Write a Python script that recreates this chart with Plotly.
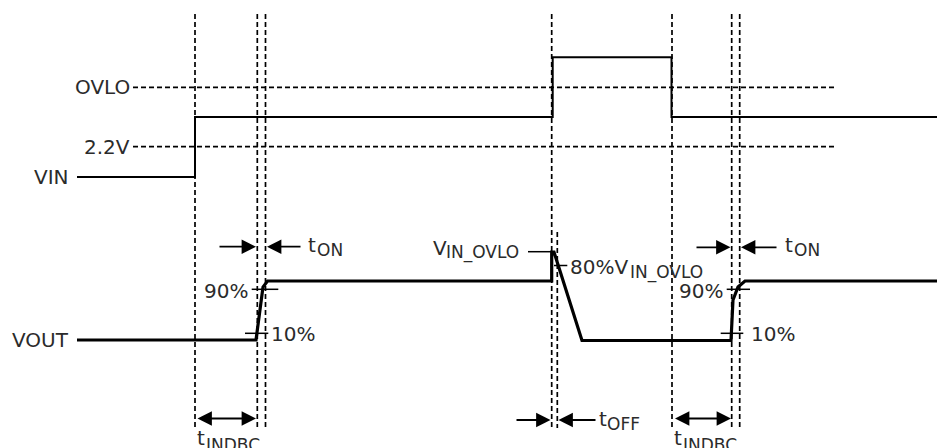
import plotly.graph_objects as go

# ---- data (pixel-like time / level units) ----
vin_t = [77, 195, 195, 552.7, 552.7, 671.5, 671.5, 937]
vin_v = [177, 177, 117, 117, 57.3, 57.3, 117, 117]

vout_t = [77, 256, 263, 267.5, 551.7, 551.7, 554, 582, 731, 733, 738, 745, 937]
vout_v = [340, 340, 287, 281, 281, 252, 252, 340.5, 340.5, 300, 287, 281, 281]

edge_t = [195, 257.3, 265.5, 551.7, 672, 731.7, 739.7]   # full-height dashed markers
edge_top, edge_bottom = 14, 428
toff_t = 557.3          # second tOFF marker (lower half only)
toff_top = 232

level_names = ["OVLO", "2.2V"]
level_v = [87.3, 146.7]
level_t0, level_t1 = 133, 837

TXT = "#2b2b2b"
FONT = "DejaVu Sans"
DASH = "5px,3px"

fig = go.Figure()

# dashed vertical markers
for t in edge_t:
    fig.add_trace(go.Scatter(x=[t, t], y=[edge_top, edge_bottom], mode="lines",
                             line=dict(color="black", width=1.7, dash=DASH),
                             hoverinfo="skip", showlegend=False))
fig.add_trace(go.Scatter(x=[toff_t, toff_t], y=[toff_top, edge_bottom], mode="lines",
                         line=dict(color="black", width=1.7, dash=DASH),
                         hoverinfo="skip", showlegend=False))

# dashed horizontal levels
for v in level_v:
    fig.add_trace(go.Scatter(x=[level_t0, level_t1], y=[v, v], mode="lines",
                             line=dict(color="black", width=1.7, dash=DASH),
                             hoverinfo="skip", showlegend=False))

# VIN and VOUT waveforms
fig.add_trace(go.Scatter(x=vin_t, y=vin_v, mode="lines",
                         line=dict(color="black", width=2),
                         hoverinfo="skip", showlegend=False))
fig.add_trace(go.Scatter(x=vout_t, y=vout_v, mode="lines",
                         line=dict(color="black", width=3.2),
                         hoverinfo="skip", showlegend=False))

# small threshold ticks (90%, 10%, 80%) and V_IN_OVLO leader
ticks = [
    (251.7, 278.3, 289.3), (245, 268.3, 333.3),
    (726.7, 750, 289.3), (720.7, 743.3, 333.3),
    (554, 567.3, 265.5), (528, 551.7, 251.7),
]
for x0, x1, y in ticks:
    fig.add_trace(go.Scatter(x=[x0, x1], y=[y, y], mode="lines",
                             line=dict(color="black", width=1.5),
                             hoverinfo="skip", showlegend=False))

ann = []


def text(x, y, s, size=20, xanchor="left", yanchor="middle"):
    ann.append(dict(x=x, y=y, text=s, showarrow=False, xref="x", yref="y",
                    xanchor=xanchor, yanchor=yanchor, borderpad=0,
                    font=dict(family=FONT, size=size, color=TXT)))


def arrow(x_head, y_head, x_tail, y_tail, both=False):
    ann.append(dict(x=x_head, y=y_head, ax=x_tail, ay=y_tail, xref="x", yref="y",
                    axref="x", ayref="y", text="", showarrow=True,
                    arrowhead=2, arrowsize=1.6, arrowwidth=1.8, arrowcolor="black",
                    arrowside="end+start" if both else "end",
                    standoff=0, startstandoff=0))


# level labels
text(131, 87.3, level_names[0], xanchor="right")
text(131, 146.7, level_names[1], xanchor="right")
text(70, 177, "VIN", xanchor="right")
text(70, 340, "VOUT", xanchor="right")

# percentage labels
text(249, 291, "90%", xanchor="right")
text(270, 333.5, "10%")
text(724, 291, "90%", xanchor="right")
text(750, 333.5, "10%")

# V_IN_OVLO
text(432, 247.5, "V")
text(445, 252.5, "IN_OVLO", size=17)
text(569, 266.5, "80%V")
text(629, 272.5, "IN_OVLO", size=17)

# tON
arrow(256, 246.7, 218, 246.7)
arrow(267, 246.7, 302, 246.7)
text(307, 245, "t")
text(316, 249.5, "ON", size=17)
arrow(730.5, 247.3, 695, 247.3)
arrow(741, 247.3, 778, 247.3)
text(784, 245, "t")
text(792.5, 249.5, "ON", size=17)

# tOFF
arrow(550.5, 420, 515, 420)
arrow(558.5, 420, 597, 420)
text(597.5, 419, "t")
text(606, 424, "OFF", size=17)

# tINDBC
arrow(256, 418.5, 196, 418.5, both=True)
text(196, 438, "t")
text(205, 444.5, "INDBC", size=17)
arrow(731, 418.5, 673.5, 418.5, both=True)
text(673, 438, "t")
text(682, 444.5, "INDBC", size=17)

fig.update_layout(
    width=937, height=448,
    margin=dict(l=0, r=0, t=0, b=0),
    paper_bgcolor="white", plot_bgcolor="white",
    xaxis=dict(range=[0, 937], visible=False, fixedrange=True),
    yaxis=dict(range=[448, 0], visible=False, fixedrange=True),
    annotations=ann,
    showlegend=False,
)

fig.write_html(
    "out.html",
    config={"displayModeBar": False},
    post_script="document.body.style.margin='0px';document.body.style.overflow='hidden';",
)
